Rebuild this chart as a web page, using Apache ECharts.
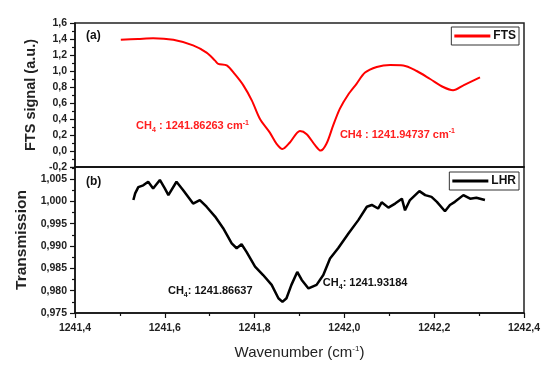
<!DOCTYPE html>
<html><head><meta charset="utf-8">
<script src="https://cdn.jsdelivr.net/npm/echarts@6/dist/echarts.min.js"></script>
<style>html,body{margin:0;padding:0;background:#fff}#c{width:559px;height:374px}</style>
</head><body><div id="c"></div>
<script>
// FTS (a) data
const ftsX = [1241.502,1241.540,1241.574,1241.619,1241.663,1241.693,1241.712,1241.719,1241.738,1241.756,1241.775,1241.794,1241.812,1241.834,1241.849,1241.862,1241.879,1241.901,1241.916,1241.935,1241.947,1241.960,1241.975,1241.990,1242.009,1242.027,1242.046,1242.072,1242.102,1242.131,1242.161,1242.191,1242.220,1242.242,1242.265,1242.302];
const ftsY = [1.39,1.40,1.41,1.39,1.32,1.23,1.13,1.09,1.07,0.96,0.82,0.63,0.40,0.23,0.09,0.025,0.11,0.25,0.21,0.07,0.005,0.09,0.32,0.53,0.71,0.84,0.98,1.05,1.075,1.07,1.00,0.90,0.80,0.76,0.82,0.92];
// LHR (b) data
const lhrX = [1241.530,1241.534,1241.541,1241.552,1241.563,1241.574,1241.589,1241.600,1241.608,1241.626,1241.641,1241.663,1241.678,1241.693,1241.712,1241.730,1241.749,1241.760,1241.771,1241.782,1241.801,1241.819,1241.838,1241.853,1241.862,1241.871,1241.882,1241.895,1241.905,1241.920,1241.938,1241.953,1241.968,1241.986,1242.009,1242.031,1242.050,1242.061,1242.075,1242.083,1242.098,1242.113,1242.128,1242.135,1242.146,1242.167,1242.180,1242.194,1242.206,1242.224,1242.235,1242.246,1242.265,1242.280,1242.294,1242.313];
const lhrY = [1.0003,1.0018,1.0032,1.0036,1.0044,1.0029,1.0048,1.0029,1.0014,1.0044,1.0025,0.9995,1.0003,0.9988,0.9966,0.9940,0.9906,0.9895,0.9904,0.9887,0.9854,0.9835,0.9813,0.9783,0.9775,0.9783,0.9813,0.9842,0.9824,0.9805,0.9813,0.9835,0.9872,0.9895,0.9928,0.9958,0.9988,0.9992,0.9984,0.9998,0.9986,0.9995,1.0006,0.9980,1.0003,1.0023,1.0014,1.0010,0.9999,0.9978,0.9992,0.9999,1.0014,1.0006,1.0008,1.0003];
// annotations
const ftsNoteX = [1241.536, 1241.990];
const ftsNoteY = [0.31, 0.20];
const ftsNoteText = ['CH{sub|4} : 1241.86263 cm{sup|-1}', 'CH4 : 1241.94737 cm{sup|-1}'];
const lhrNoteX = [1241.607, 1241.952];
const lhrNoteY = [0.9799, 0.9817];
const lhrNoteText = ['CH{sub|4}: 1241.86637', 'CH{sub|4}: 1241.93184'];
const xTicks = {min: 1241.4, max: 1242.4, interval: 0.2};

const chart = echarts.init(document.getElementById('c'));
const font = 'Liberation Sans, Arial, sans-serif';
function comma(v, d){ return v.toFixed(d).replace('.', ','); }
function notes(xs, ys, txts, color, idx){
  return {
    type: 'scatter', xAxisIndex: idx, yAxisIndex: idx, symbol: 'circle', symbolSize: 0,
    itemStyle: {color: color, opacity: 1}, silent: true, z: 5,
    data: xs.map((x,i)=>({value:[x, ys[i]], t: txts[i]})),
    label: {show: true, position: 'right', distance: 0, color: color, opacity: 1,
      fontFamily: font, fontSize: 11, fontWeight: 'bold', lineHeight: 14,
      formatter: p => p.data.t,
      rich: {
        sub: {fontSize: 7, fontWeight: 'bold', color: color, verticalAlign: 'bottom', lineHeight: 8},
        sup: {fontSize: 7, fontWeight: 'bold', color: color, verticalAlign: 'top', lineHeight: 9}
      }}
  };
}
const axisLine = {show: true, onZero: false, lineStyle: {color: '#111', width: 1.5}};
chart.setOption({
  animation: false,
  textStyle: {fontFamily: font},
  grid: [
    {left: 75, right: 35, top: 23, height: 144, show: true, borderColor: '#222', borderWidth: 1.5},
    {left: 75, right: 35, top: 167, bottom: 61, show: true, borderColor: '#222', borderWidth: 1.5}
  ],
  xAxis: [
    {type: 'value', gridIndex: 0, min: xTicks.min, max: xTicks.max, interval: xTicks.interval,
     axisLine: axisLine, axisTick: {show: false}, axisLabel: {show: false}, splitLine: {show: false}},
    {type: 'value', gridIndex: 1, min: xTicks.min, max: xTicks.max, interval: xTicks.interval,
     axisLine: axisLine,
     axisTick: {show: true, length: 5, lineStyle: {color: '#111', width: 1.2}},
     minorTick: {show: true, splitNumber: 2, length: 3, lineStyle: {color: '#111', width: 1.2}},
     axisLabel: {color: '#222', fontSize: 10.5, fontWeight: 'bold', margin: 10, formatter: v => comma(v,1)},
     splitLine: {show: false},
     name: 'Wavenumber (cm{sup|-1})', nameLocation: 'middle', nameGap: 32,
     nameTextStyle: {fontSize: 15, color: '#222', rich: {sup: {fontSize: 8, color: '#222', verticalAlign: 'top', lineHeight: 10}}}}
  ],
  yAxis: [
    {type: 'value', gridIndex: 0, min: -0.2, max: 1.6, interval: 0.2,
     axisLine: axisLine,
     axisTick: {show: true, length: 5, lineStyle: {color: '#111', width: 1.2}},
     minorTick: {show: true, splitNumber: 2, length: 3, lineStyle: {color: '#111', width: 1.2}},
     axisLabel: {color: '#222', fontSize: 10.5, fontWeight: 'bold', margin: 8, formatter: v => comma(v,1)},
     splitLine: {show: false},
     name: 'FTS signal (a.u.)', nameLocation: 'middle', nameGap: 34,
     nameTextStyle: {fontSize: 14.5, fontWeight: 'bold', color: '#222'}},
    {type: 'value', gridIndex: 1, min: 0.975, max: 1.0077, interval: 0.005,
     axisLine: axisLine,
     axisTick: {show: true, length: 5, lineStyle: {color: '#111', width: 1.2}},
     minorTick: {show: true, splitNumber: 2, length: 3, lineStyle: {color: '#111', width: 1.2}},
     axisLabel: {color: '#222', fontSize: 10.5, fontWeight: 'bold', margin: 8, showMaxLabel: false, formatter: v => comma(v,3)},
     splitLine: {show: false},
     name: 'Transmission', nameLocation: 'middle', nameGap: 42,
     nameTextStyle: {fontSize: 15.5, fontWeight: 'bold', color: '#222'}}
  ],
  legend: [
    {data: ['FTS'], right: 40, top: 27, icon: 'rect', itemWidth: 36, itemHeight: 3, itemGap: 5,
     padding: [3, 3, 3, 3], borderColor: '#333', borderWidth: 1, borderRadius: 0,
     textStyle: {fontSize: 12, fontWeight: 'bold', color: '#111', padding: [0,0,0,-2]}},
    {data: ['LHR'], right: 40, top: 172, icon: 'rect', itemWidth: 36, itemHeight: 3, itemGap: 5,
     padding: [3, 3, 3, 3], borderColor: '#333', borderWidth: 1, borderRadius: 0,
     textStyle: {fontSize: 12, fontWeight: 'bold', color: '#111', padding: [0,0,0,-2]}}
  ],
  graphic: [
    {type: 'text', left: 86, top: 30, style: {text: '(a)', font: 'bold 12px ' + font, fill: '#111'}},
    {type: 'text', left: 86, top: 176, style: {text: '(b)', font: 'bold 12px ' + font, fill: '#111'}}
  ],
  series: [
    {name: 'FTS', type: 'line', xAxisIndex: 0, yAxisIndex: 0, showSymbol: false, smooth: 0.3,
     lineStyle: {color: '#ff0000', width: 2}, itemStyle: {color: '#ff0000'},
     data: ftsX.map((x,i)=>[x, ftsY[i]])},
    {name: 'LHR', type: 'line', xAxisIndex: 1, yAxisIndex: 1, showSymbol: false,
     lineStyle: {color: '#000', width: 2.5}, itemStyle: {color: '#000'},
     data: lhrX.map((x,i)=>[x, lhrY[i]])},
    notes(ftsNoteX, ftsNoteY, ftsNoteText, '#ff2020', 0),
    notes(lhrNoteX, lhrNoteY, lhrNoteText, '#111', 1)
  ]
});
</script></body></html>
